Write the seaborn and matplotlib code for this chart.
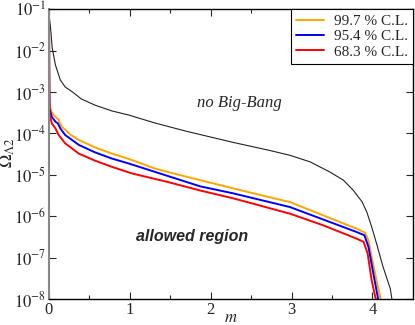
import numpy as np
import pandas as pd
import matplotlib
matplotlib.use('Agg')
import matplotlib.pyplot as plt
import matplotlib.ticker as ticker
import seaborn as sns

# curves: m and log10(Omega_Lambda2)
m_nobb = [0.0, 0.005, 0.02, 0.04, 0.08, 0.14, 0.20, 0.29, 0.40, 0.57, 0.78, 0.99, 1.31, 1.70, 2.28, 2.70,
          2.98, 3.23, 3.47, 3.64, 3.76, 3.87, 3.93, 3.99, 4.05, 4.13, 4.22, 4.24, 4.25]
log_nobb = [-0.9, -1.2, -1.46, -1.94, -2.35, -2.71, -2.88, -3.0, -3.17, -3.32, -3.46, -3.56, -3.75, -3.95, -4.22, -4.40,
            -4.53, -4.69, -4.93, -5.13, -5.37, -5.65, -5.90, -6.26, -6.66, -7.22, -7.75, -8.0, -8.1]

m_997 = [0.0, 0.003, 0.006, 0.03, 0.06, 0.10, 0.12, 0.13, 0.16, 0.27, 0.37, 0.57, 0.78, 0.99, 1.31, 1.46, 1.87, 2.28,
         2.70, 2.98, 3.39, 3.80, 3.91, 3.95, 3.99, 4.05, 4.10, 4.11]
log_997 = [-0.9, -2.4, -3.28, -3.48, -3.56, -3.64, -3.66, -3.74, -3.84, -4.04, -4.16, -4.34, -4.49, -4.62, -4.85, -4.93, -5.13, -5.33,
           -5.53, -5.66, -5.98, -6.30, -6.40, -6.58, -6.98, -7.55, -8.0, -8.1]

m_954 = [0.0, 0.003, 0.006, 0.035, 0.08, 0.11, 0.14, 0.20, 0.37, 0.57, 0.78, 0.99, 1.31, 1.87, 2.28, 2.98,
         3.39, 3.80, 3.90, 3.95, 4.01, 4.07, 4.08]
log_954 = [-0.9, -2.5, -3.40, -3.60, -3.72, -3.76, -3.88, -4.04, -4.28, -4.46, -4.61, -4.73, -4.93, -5.28, -5.45, -5.78,
           -6.08, -6.38, -6.46, -6.74, -7.38, -8.0, -8.1]

m_683 = [0.0, 0.003, 0.006, 0.035, 0.08, 0.12, 0.20, 0.37, 0.57, 0.78, 1.03, 1.46, 1.87, 2.28, 2.98,
         3.39, 3.80, 3.89, 3.94, 3.99, 4.04, 4.05]
log_683 = [-0.9, -2.7, -3.52, -3.76, -3.88, -4.04, -4.24, -4.49, -4.66, -4.81, -4.97, -5.17, -5.38, -5.57, -5.94,
           -6.22, -6.54, -6.62, -6.90, -7.55, -8.0, -8.1]

labels = ['99.7 % C.L.', '95.4 % C.L.', '68.3 % C.L.']
colors = ['#ffa500', '#0000ff', '#ff0000']
y_decades = [-8, -7, -6, -5, -4, -3, -2, -1]
x_ticks = [0, 1, 2, 3, 4]

sns.set_style('ticks')
plt.rcParams['font.family'] = ['Liberation Serif', 'DejaVu Serif']
plt.rcParams['mathtext.fontset'] = 'stix'

fig = plt.figure(figsize=(4.15, 3.25), dpi=100)
ax = fig.add_axes([0.118, 0.08, 0.877, 0.892])

sns.lineplot(x=m_nobb, y=10.0 ** np.array(log_nobb), color='#222222', lw=0.8,
             sort=False, estimator=None, ax=ax)
for mm, ll, lab, c in zip([m_997, m_954, m_683], [log_997, log_954, log_683], labels, colors):
    sns.lineplot(x=mm, y=10.0 ** np.array(ll), color=c, lw=1.4, label=lab,
                 sort=False, estimator=None, ax=ax)

ax.set_yscale('log')
ax.set_xlim(0, 4.5)
ax.set_ylim(1e-8, 1e-1)
ax.set_xticks(x_ticks)
ax.set_xticklabels([str(t) for t in x_ticks])
ax.set_xticks([0.5, 1.5, 2.5, 3.5], minor=True)
ax.set_yticks([10.0 ** d for d in y_decades])
ax.set_yticklabels([r'$10^{%d}$' % d for d in y_decades])
ax.yaxis.set_minor_locator(ticker.NullLocator())
ax.tick_params(which='both', direction='in', top=True, right=True, labelsize=12, pad=2)
ax.tick_params(which='major', length=5, width=0.8)
ax.tick_params(which='minor', length=3, width=0.8)

for s in ['top', 'right', 'bottom']:
    ax.spines[s].set_color('black')
    ax.spines[s].set_linewidth(1.0)
ax.spines['left'].set_color('#888888')
ax.spines['left'].set_linewidth(1.5)

ax.set_xlabel('$m$', fontsize=12)
ax.xaxis.set_label_coords(0.5, -0.038)
ax.set_ylabel(r'$\Omega_{\Lambda2}$', fontsize=13)
ax.yaxis.set_label_coords(-0.088, 0.505)

ax.text(2.36, 10 ** -3.26, 'no Big-Bang', style='italic', fontsize=12,
        ha='center', va='center')
ax.text(1.77, 10 ** -6.5, 'allowed region', family='Liberation Sans',
        style='italic', weight='bold', fontsize=11.5, ha='center', va='center')

leg = ax.legend(loc='upper right', borderaxespad=0, fancybox=False,
                framealpha=1, edgecolor='black', fontsize=11,
                handlelength=1.8, labelspacing=0.1, borderpad=0.35, handletextpad=0.65)
leg.get_frame().set_linewidth(0.8)

fig.savefig('out.png', dpi=100)
